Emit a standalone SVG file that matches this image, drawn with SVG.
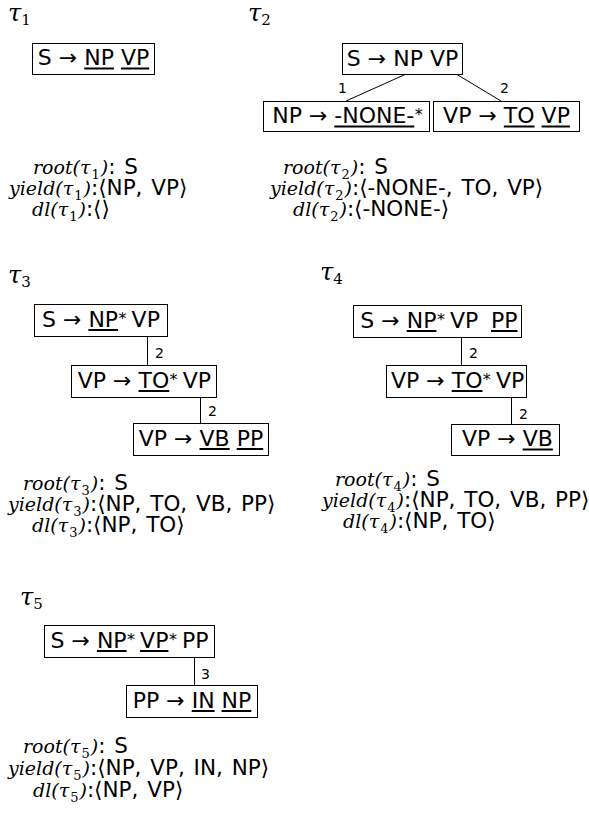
<svg xmlns="http://www.w3.org/2000/svg" width="589" height="821" viewBox="0 0 589 821">
<style>
.bg{fill:#fff}
.box{fill:#fff;stroke:#000;stroke-width:1}
.t{font-family:"DejaVu Sans",Verdana,sans-serif;font-size:22px;fill:#000}
.st{font-size:16px}
.ul{stroke:#000;stroke-width:2}
.edge{stroke:#000;stroke-width:1;fill:none}
.lbl{font-family:"DejaVu Sans",sans-serif;font-size:14px;fill:#000}
.tau{font-family:"DejaVu Serif",serif;font-style:italic;font-size:24px;fill:#000}
.tsub{font-size:15px;font-style:normal}
.ln{font-family:"DejaVu Sans",sans-serif;font-size:21.5px;word-spacing:2px;fill:#000}
.m{font-family:"DejaVu Serif",serif;font-style:italic;font-size:19px;word-spacing:0}
.sb{font-size:13px;font-style:normal}
</style>
<rect class="bg" x="0" y="0" width="589" height="821"/>

<!-- tau labels -->
<g id="labels">
<text class="tau" x="8" y="21">τ<tspan class="tsub" dy="4">1</tspan></text>
<text class="tau" x="248" y="21">τ<tspan class="tsub" dy="4">2</tspan></text>
<text class="tau" x="8" y="283">τ<tspan class="tsub" dy="4">3</tspan></text>
<text class="tau" x="320" y="280">τ<tspan class="tsub" dy="4">4</tspan></text>
<text class="tau" x="20" y="605">τ<tspan class="tsub" dy="4">5</tspan></text>
</g>

<!-- connectors -->
<g id="connectors">
<line class="edge" x1="405" y1="74.5" x2="346" y2="101"/>
<line class="edge" x1="457" y1="74.5" x2="501" y2="101"/>
<text class="lbl" x="338" y="93">1</text>
<text class="lbl" x="500" y="93">2</text>
<line class="edge" x1="147.5" y1="336" x2="147.5" y2="365"/>
<text class="lbl" x="155" y="358">2</text>
<line class="edge" x1="200.5" y1="397" x2="200.5" y2="423"/>
<text class="lbl" x="208" y="416">2</text>
<line class="edge" x1="461.5" y1="337" x2="461.5" y2="365"/>
<text class="lbl" x="469" y="358">2</text>
<line class="edge" x1="511.5" y1="397" x2="511.5" y2="424"/>
<text class="lbl" x="519" y="419">2</text>
<line class="edge" x1="194.5" y1="657" x2="194.5" y2="685"/>
<text class="lbl" x="201" y="679">3</text>
</g>

<!-- tau1 -->
<g id="t1-s">
<rect class="box" x="32.5" y="43.5" width="122" height="31"/>
<text class="t" y="65"><tspan x="37.8">S</tspan><tspan x="58.8">→</tspan><tspan x="84.2">NP</tspan><tspan x="120.9">VP</tspan></text>
<line class="ul" x1="84.2" y1="68.5" x2="113.9" y2="68.5"/>
<line class="ul" x1="120.9" y1="68.5" x2="149.2" y2="68.5"/>
</g>

<!-- tau2 -->
<g id="t2-s">
<rect class="box" x="342.5" y="43.5" width="120" height="31"/>
<text class="t" y="65.5"><tspan x="346.8">S</tspan><tspan x="367.8">→</tspan><tspan x="393.2">NP</tspan><tspan x="429.9">VP</tspan></text>
</g>
<g id="t2-np">
<rect class="box" x="263.5" y="101.5" width="166" height="30"/>
<text class="t" y="123"><tspan x="272.2">NP</tspan><tspan x="308.9">→</tspan><tspan x="334.3">-NONE-</tspan><tspan class="st" x="414.8" y="120">*</tspan></text>
<line class="ul" x1="334.3" y1="126.5" x2="414.3" y2="126.5"/>
</g>
<g id="t2-vp">
<rect class="box" x="433.5" y="101.5" width="146" height="30"/>
<text class="t" y="123"><tspan x="443.1">VP</tspan><tspan x="478.4">→</tspan><tspan x="503.8">TO</tspan><tspan x="541.6">VP</tspan></text>
<line class="ul" x1="503.8" y1="126.5" x2="534.6" y2="126.5"/>
<line class="ul" x1="541.6" y1="126.5" x2="569.9" y2="126.5"/>
</g>

<!-- tau3 -->
<g id="t3-s">
<rect class="box" x="34.5" y="304.5" width="133" height="32"/>
<text class="t" y="326.5"><tspan x="42">S</tspan><tspan x="63">→</tspan><tspan x="88.4">NP</tspan><tspan class="st" x="118.6" y="323.5">*</tspan><tspan x="131.6" y="326.5">VP</tspan></text>
<line class="ul" x1="88.4" y1="330" x2="118.1" y2="330"/>
</g>
<g id="t3-vp1">
<rect class="box" x="71.5" y="365.5" width="145" height="32"/>
<text class="t" y="387.5"><tspan x="77.8">VP</tspan><tspan x="113.1">→</tspan><tspan x="138.5">TO</tspan><tspan class="st" x="169.6" y="384.5">*</tspan><tspan x="182.8" y="387.5">VP</tspan></text>
<line class="ul" x1="138.5" y1="391" x2="169.3" y2="391"/>
</g>
<g id="t3-vp2">
<rect class="box" x="133.5" y="423.5" width="135" height="32"/>
<text class="t" y="445.5"><tspan x="138.8">VP</tspan><tspan x="174.1">→</tspan><tspan x="199.5">VB</tspan><tspan x="236.7">PP</tspan></text>
<line class="ul" x1="199.5" y1="449" x2="229.7" y2="449"/>
<line class="ul" x1="236.7" y1="449" x2="263.2" y2="449"/>
</g>

<!-- tau4 -->
<g id="t4-s">
<rect class="box" x="353.5" y="305.5" width="168" height="32"/>
<text class="t" y="327.5"><tspan x="360.3">S</tspan><tspan x="381.3">→</tspan><tspan x="406.7">NP</tspan><tspan class="st" x="436.9" y="324.5">*</tspan><tspan x="450" y="327.5">VP</tspan><tspan x="491">PP</tspan></text>
<line class="ul" x1="406.7" y1="331" x2="436.4" y2="331"/>
<line class="ul" x1="491" y1="331" x2="517.5" y2="331"/>
</g>
<g id="t4-vp1">
<rect class="box" x="386.5" y="365.5" width="140" height="32"/>
<text class="t" y="387.5"><tspan x="391">VP</tspan><tspan x="426.3">→</tspan><tspan x="451.7">TO</tspan><tspan class="st" x="482.8" y="384.5">*</tspan><tspan x="496" y="387.5">VP</tspan></text>
<line class="ul" x1="451.7" y1="391" x2="482.5" y2="391"/>
</g>
<g id="t4-vp2">
<rect class="box" x="451.5" y="424.5" width="108" height="31"/>
<text class="t" y="446"><tspan x="462">VP</tspan><tspan x="497.3">→</tspan><tspan x="522.7">VB</tspan></text>
<line class="ul" x1="522.7" y1="449.5" x2="552.9" y2="449.5"/>
</g>

<!-- tau5 -->
<g id="t5-s">
<rect class="box" x="44.5" y="625.5" width="170" height="32"/>
<text class="t" y="647.5"><tspan x="50.5">S</tspan><tspan x="71.5">→</tspan><tspan x="96.9">NP</tspan><tspan class="st" x="127.1" y="644.5">*</tspan><tspan x="140.1" y="647.5">VP</tspan><tspan class="st" x="168.9" y="644.5">*</tspan><tspan x="181.9" y="647.5">PP</tspan></text>
<line class="ul" x1="96.9" y1="651" x2="126.6" y2="651"/>
<line class="ul" x1="140.1" y1="651" x2="168.4" y2="651"/>
</g>
<g id="t5-pp">
<rect class="box" x="126.5" y="685.5" width="131" height="32"/>
<text class="t" y="707.5"><tspan x="132.7">PP</tspan><tspan x="166.2">→</tspan><tspan x="191.7">IN</tspan><tspan x="221.6">NP</tspan></text>
<line class="ul" x1="191.7" y1="711" x2="214.6" y2="711"/>
<line class="ul" x1="221.6" y1="711" x2="251.3" y2="711"/>
</g>

<!-- properties -->
<g id="props">
<text class="ln" x="33" y="174"><tspan class="m">root(τ</tspan><tspan class="m sb" dx="1" dy="5">1</tspan><tspan class="m" dx="1" dy="-5">)</tspan>: S</text>
<text class="ln" x="9" y="195"><tspan class="m">yield(τ</tspan><tspan class="m sb" dx="1" dy="5">1</tspan><tspan class="m" dx="1" dy="-5">)</tspan>:⟨NP, VP⟩</text>
<text class="ln" x="32" y="216"><tspan class="m">dl(τ</tspan><tspan class="m sb" dx="1" dy="5">1</tspan><tspan class="m" dx="1" dy="-5">)</tspan>:⟨⟩</text>

<text class="ln" x="283" y="174"><tspan class="m">root(τ</tspan><tspan class="m sb" dx="1" dy="5">2</tspan><tspan class="m" dx="1" dy="-5">)</tspan>: S</text>
<text class="ln" x="270" y="195"><tspan class="m">yield(τ</tspan><tspan class="m sb" dx="1" dy="5">2</tspan><tspan class="m" dx="1" dy="-5">)</tspan>:⟨-NONE-, TO, VP⟩</text>
<text class="ln" x="293" y="216"><tspan class="m">dl(τ</tspan><tspan class="m sb" dx="1" dy="5">2</tspan><tspan class="m" dx="1" dy="-5">)</tspan>:⟨-NONE-⟩</text>

<text class="ln" x="23" y="490"><tspan class="m">root(τ</tspan><tspan class="m sb" dx="1" dy="5">3</tspan><tspan class="m" dx="1" dy="-5">)</tspan>: S</text>
<text class="ln" x="8" y="511"><tspan class="m">yield(τ</tspan><tspan class="m sb" dx="1" dy="5">3</tspan><tspan class="m" dx="1" dy="-5">)</tspan>:⟨NP, TO, VB, PP⟩</text>
<text class="ln" x="32" y="532"><tspan class="m">dl(τ</tspan><tspan class="m sb" dx="1" dy="5">3</tspan><tspan class="m" dx="1" dy="-5">)</tspan>:⟨NP, TO⟩</text>

<text class="ln" x="335" y="486"><tspan class="m">root(τ</tspan><tspan class="m sb" dx="1" dy="5">4</tspan><tspan class="m" dx="1" dy="-5">)</tspan>: S</text>
<text class="ln" x="322" y="507"><tspan class="m">yield(τ</tspan><tspan class="m sb" dx="1" dy="5">4</tspan><tspan class="m" dx="1" dy="-5">)</tspan>:⟨NP, TO, VB, PP⟩</text>
<text class="ln" x="343" y="528"><tspan class="m">dl(τ</tspan><tspan class="m sb" dx="1" dy="5">4</tspan><tspan class="m" dx="1" dy="-5">)</tspan>:⟨NP, TO⟩</text>

<text class="ln" x="23" y="753"><tspan class="m">root(τ</tspan><tspan class="m sb" dx="1" dy="5">5</tspan><tspan class="m" dx="1" dy="-5">)</tspan>: S</text>
<text class="ln" x="8" y="775"><tspan class="m">yield(τ</tspan><tspan class="m sb" dx="1" dy="5">5</tspan><tspan class="m" dx="1" dy="-5">)</tspan>:⟨NP, VP, IN, NP⟩</text>
<text class="ln" x="33" y="797"><tspan class="m">dl(τ</tspan><tspan class="m sb" dx="1" dy="5">5</tspan><tspan class="m" dx="1" dy="-5">)</tspan>:⟨NP, VP⟩</text>
</g>
</svg>
